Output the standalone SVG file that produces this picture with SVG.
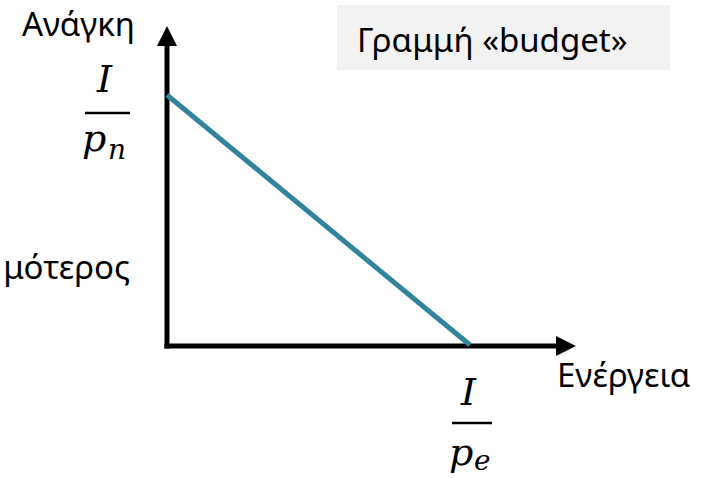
<svg xmlns="http://www.w3.org/2000/svg" width="711" height="478" viewBox="0 0 711 478">
<defs>
<style>
.lbl{font-family:"Noto Sans","Open Sans","DejaVu Sans",sans-serif;font-size:33px;fill:#000}
.math{font-family:"DejaVu Serif","Liberation Serif",serif;font-style:italic;font-size:38px;fill:#000}
.sub{font-family:"DejaVu Serif","Liberation Serif",serif;font-style:italic;font-size:28px;fill:#000}
.axis{stroke:#000;stroke-width:5;fill:none}
.bar{stroke:#000;stroke-width:2.5}
</style>
<marker id="ah" markerWidth="4" markerHeight="4" refX="0" refY="2" orient="auto" markerUnits="strokeWidth">
<path d="M0,0 L4,2 L0,4 Z" fill="#000"/>
</marker>
</defs>
<rect width="711" height="478" fill="#fff"/>
<g id="connectors">
<line class="axis" x1="167" y1="348.5" x2="167" y2="46" marker-end="url(#ah)"/>
<line class="axis" x1="164.5" y1="346" x2="556" y2="346" marker-end="url(#ah)"/>
<line x1="167" y1="95" x2="470" y2="345" stroke="#31849B" stroke-width="5"/>
</g>
<g id="title">
<rect x="337" y="5" width="333" height="65" fill="#f2f2f2"/>
<text class="lbl" x="357" y="52">Γραμμή «budget»</text>
</g>
<g id="ylabel"><text class="lbl" x="22" y="36">Ανάγκη</text></g>
<g id="xlabel"><text class="lbl" x="557" y="387">Ενέργεια</text></g>
<g id="leftlabel"><text class="lbl" x="130" y="279" text-anchor="end">μότερος</text></g>
<g id="frac-n">
<text class="math" x="97" y="92">I</text>
<line class="bar" x1="85" y1="113" x2="130" y2="113"/>
<text class="math" x="82" y="151">p</text>
<text class="sub" x="108" y="159">n</text>
</g>
<g id="frac-e">
<text class="math" x="461" y="405">I</text>
<line class="bar" x1="452" y1="423" x2="492" y2="423"/>
<text class="math" x="449" y="465">p</text>
<text class="sub" x="474" y="470">e</text>
</g>
</svg>
